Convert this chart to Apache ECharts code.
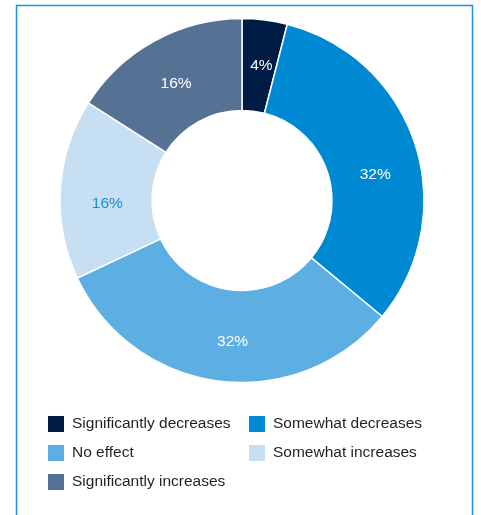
<!DOCTYPE html>
<html>
<head>
<meta charset="utf-8">
<script src="https://cdn.jsdelivr.net/npm/echarts@6/dist/echarts.min.js"></script>
<style>
  html, body { margin: 0; padding: 0; background: #ffffff; }
  #chart { width: 481px; height: 515px; }
</style>
</head>
<body>
<div id="chart"></div>
<script>
// Share of respondents per expected effect
const categories = [
  'Significantly decreases',
  'Somewhat decreases',
  'No effect',
  'Somewhat increases',
  'Significantly increases'
];
const shares = [4, 32, 32, 16, 16];

// Slice styling
const sliceColors = ['#001b44', '#0089d3', '#5daee3', '#c7dff3', '#557194'];
const labelColors = ['#ffffff', '#ffffff', '#ffffff', '#1a8fd6', '#ffffff'];
const labelNudge = [[2, 3], [1, 17], [8, 3], [4, 12], [1, 5]];

// Legend is laid out as two columns
const legendLeftCol = [categories[0], categories[2], categories[4]];
const legendRightCol = [categories[1], categories[3]];

const FONT = 'Liberation Sans, Arial, Helvetica, sans-serif';

const chart = echarts.init(document.getElementById('chart'), null, { renderer: 'canvas' });

const legendBase = {
  orient: 'vertical',
  top: 416,
  padding: 0,
  itemWidth: 16,
  itemHeight: 16,
  itemGap: 13,
  icon: 'rect',
  selectedMode: false,
  itemStyle: { borderWidth: 0 },
  textStyle: { fontFamily: FONT, fontSize: 15.5, color: '#231f20', padding: [0, 0, 0, 3] }
};

chart.setOption({
  animation: false,
  color: sliceColors,
  legend: [
    Object.assign({}, legendBase, { left: 48, data: legendLeftCol }),
    Object.assign({}, legendBase, { left: 249, data: legendRightCol })
  ],
  graphic: [{
    type: 'polyline',
    shape: { points: [[16.5, 515], [16.5, 5.5], [472.5, 5.5], [472.5, 515]] },
    style: { stroke: '#1a93dc', lineWidth: 1.5, fill: null }
  }],
  series: [{
    type: 'pie',
    center: [242, 200.5],
    radius: [90, 182],
    startAngle: 90,
    clockwise: true,
    avoidLabelOverlap: false,
    itemStyle: { borderColor: '#ffffff', borderWidth: 1.5 },
    label: {
      show: true,
      position: 'inside',
      fontFamily: FONT,
      fontSize: 15.5,
      formatter: p => p.value + '%'
    },
    labelLine: { show: false },
    emphasis: { disabled: true },
    data: categories.map((name, i) => ({
      name: name,
      value: shares[i],
      label: { color: labelColors[i], offset: labelNudge[i] }
    }))
  }]
});
</script>
</body>
</html>
